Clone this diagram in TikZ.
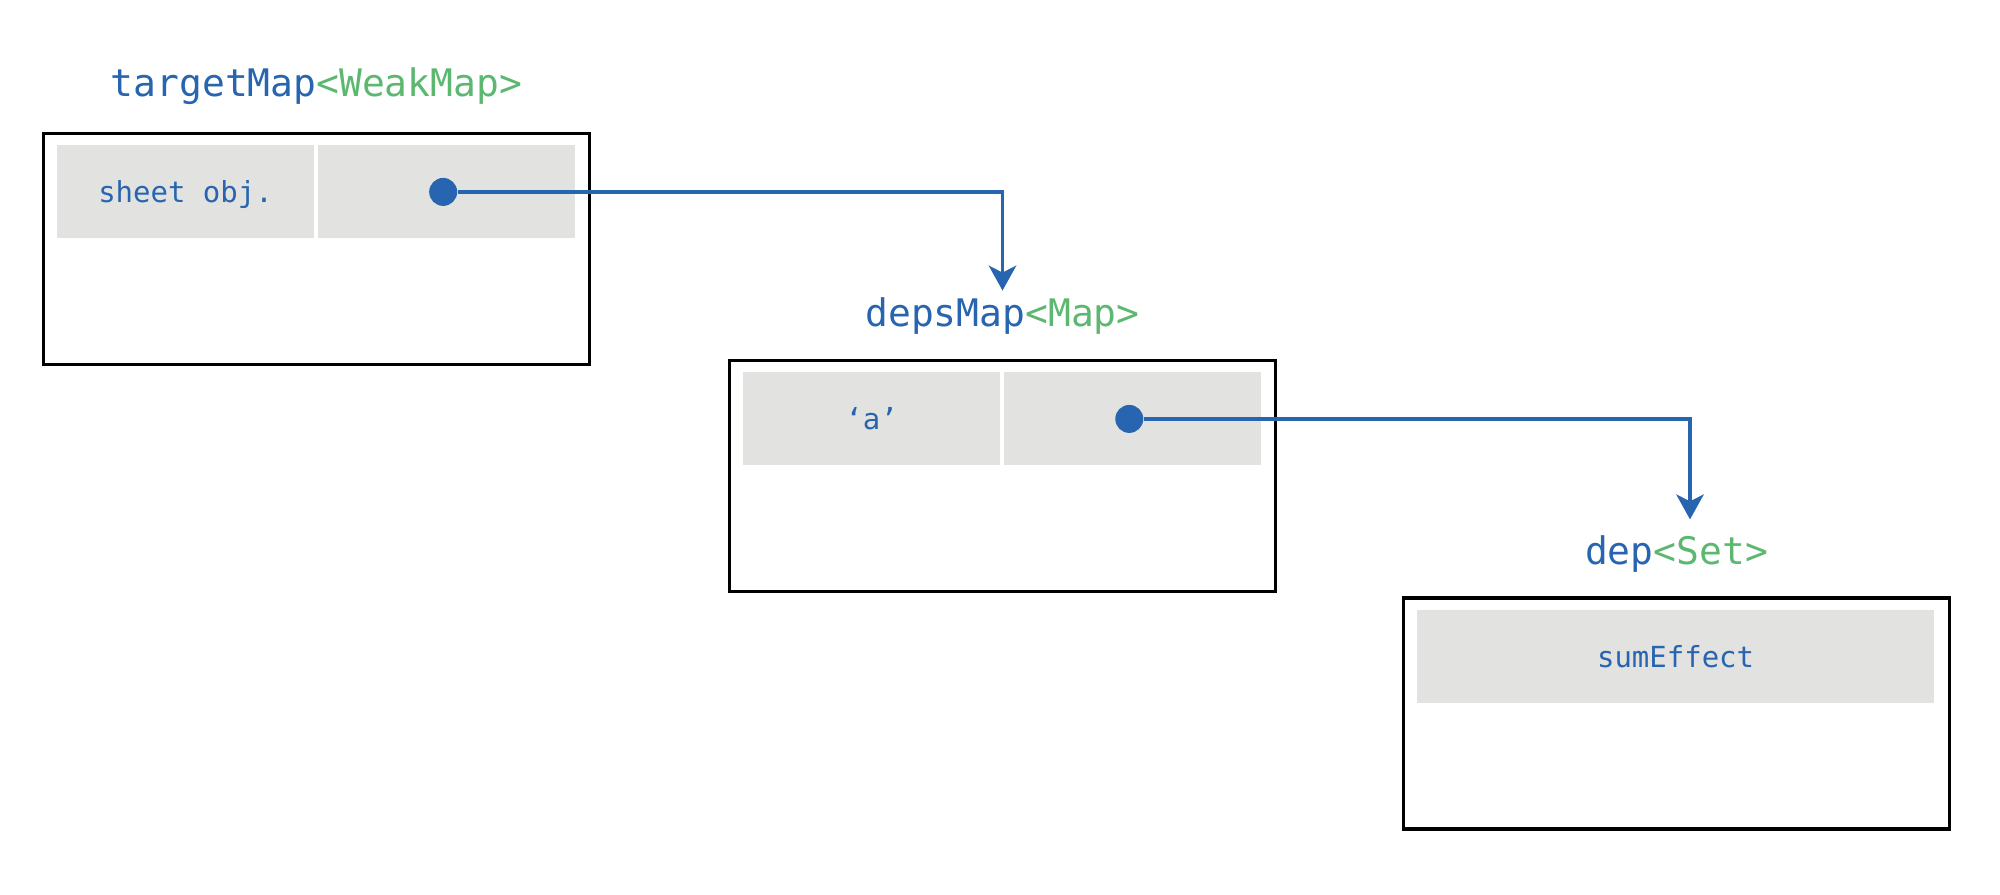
\documentclass[tikz,border=0pt]{standalone}
\usepackage{fontspec}
\setmonofont{DejaVu Sans Mono}
\usetikzlibrary{arrows.meta,positioning}
\definecolor{keyblue}{RGB}{40,101,176}
\definecolor{typegreen}{RGB}{92,184,112}
\definecolor{cellgray}{RGB}{226,226,224}
\newcommand{\typ}[1]{\textcolor{typegreen}{#1}}

\begin{document}
\begin{tikzpicture}[x=0.02cm,y=-0.02cm,
    mapbox/.style={draw=black,line width=2pt,minimum width=10.92cm,minimum height=4.62cm,inner sep=0pt},
    cell/.style={fill=cellgray,minimum width=5.14cm,minimum height=1.86cm,inner sep=0pt,text depth=0pt,
      text=keyblue,font=\ttfamily\fontsize{16.5}{20}\selectfont},
    title/.style={anchor=base,text=keyblue,font=\ttfamily\fontsize{21.6}{26}\selectfont},
    ptr/.style={circle,fill=keyblue,minimum size=0.56cm,inner sep=0pt},
    link/.style={draw=keyblue,line width=1.9pt,-{Stealth[length=0.5cm,width=0.55cm,inset=0.14cm]}}]
  \useasboundingbox (0,0) rectangle (2000,894);

  % targetMap
  \node[mapbox] (b1) at (316.4,248.8) {};
  \node[cell,anchor=north west] (c11) at ([shift={(0.3cm,-0.27cm)}]b1.north west) {sheet obj.};
  \node[cell,right=0.06cm of c11] (c12) {};
  \node[ptr] (d1) at ([xshift=-0.06cm]c12.center) {};
  \node[title] (l1) at ([yshift=0.7cm]b1.north) {targetMap\typ{<WeakMap>}};

  % depsMap
  \node[mapbox] (b2) at (1002.5,475.8) {};
  \node[cell,anchor=north west] (c21) at ([shift={(0.3cm,-0.27cm)}]b2.north west) {‘a’};
  \node[cell,right=0.06cm of c21] (c22) {};
  \node[ptr] (d2) at ([xshift=-0.06cm]c22.center) {};
  \node[title] (l2) at ([yshift=0.64cm]b2.north) {depsMap\typ{<Map>}};

  % dep
  \node[mapbox] (b3) at (1676.5,713.6) {};
  \node[cell,anchor=north west,minimum width=10.34cm] (c31) at ([shift={(0.3cm,-0.27cm)}]b3.north west) {sumEffect};
  \node[title] (l3) at ([yshift=0.64cm]b3.north) {dep\typ{<Set>}};

  \coordinate (t1) at ([yshift=1.36cm]b2.north);
  \coordinate (t2) at ([shift={(0.27cm,1.54cm)}]b3.north);
  \draw[link] (d1) -| (t1);
  \draw[link] (d2) -| (t2);
\end{tikzpicture}
\end{document}
